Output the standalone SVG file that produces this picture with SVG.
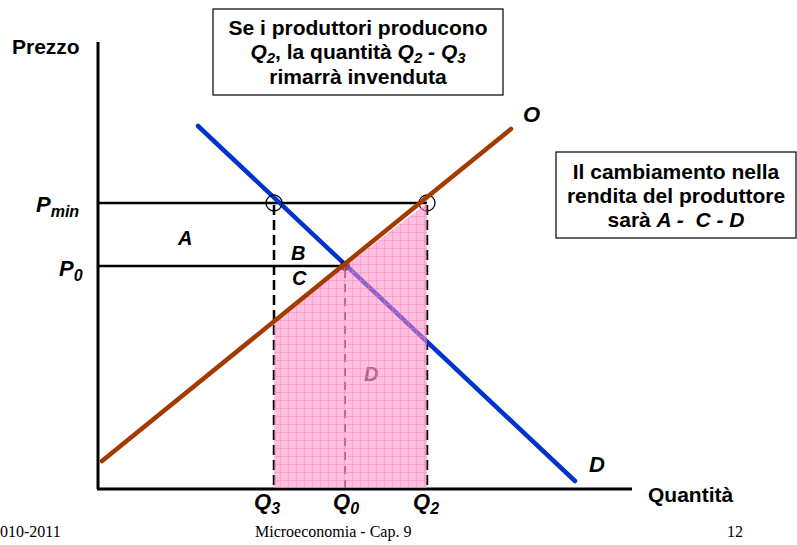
<svg xmlns="http://www.w3.org/2000/svg" width="797" height="545" viewBox="0 0 797 545">
<defs>
<style>
.lbl{font-family:"Liberation Sans",Arial,sans-serif;font-weight:bold;font-size:21px;fill:#000}
.it{font-family:"Liberation Sans",Arial,sans-serif;font-weight:bold;font-style:italic;fill:#000}
.ft{font-family:"Liberation Serif","Times New Roman",serif;font-size:16px;fill:#000}
.ax{stroke:#000;stroke-width:3;fill:none}
.hl{stroke:#000;stroke-width:2.5;fill:none}
.dash{stroke:#000;stroke-width:2.5;stroke-dasharray:10,5;fill:none}
.box{fill:#fff;stroke:#000;stroke-width:1.2}
.circ{fill:none;stroke:#000;stroke-width:1.3}
</style>
<pattern id="grid" width="8" height="8" patternUnits="userSpaceOnUse">
<rect width="8" height="8" fill="#ff8cc6" fill-opacity="0.55"/>
<path d="M0 0.5H8M0.5 0V8" stroke="#ff70b8" stroke-width="1" stroke-opacity="0.4"/>
</pattern>
</defs>
<rect width="797" height="545" fill="#fff"/>
<g id="axes">
<line class="ax" x1="98" y1="42" x2="98" y2="489"/>
<line class="ax" x1="97" y1="489" x2="632" y2="489"/>
<text class="lbl" x="12" y="54">Prezzo</text>
<text class="lbl" x="648" y="502">Quantità</text>
</g>
<g id="connectors">
<line class="hl" x1="98" y1="203" x2="427" y2="203"/>
<line class="hl" x1="98" y1="266" x2="345" y2="266"/>
<line class="dash" x1="274" y1="205" x2="274" y2="488"/>
<line class="dash" x1="427" y1="205" x2="427" y2="488"/>
<line stroke="#000" stroke-width="1.5" stroke-dasharray="8,6" x1="345" y1="270" x2="345" y2="488"/>
<line id="demand" x1="198" y1="126" x2="575" y2="481" stroke="#0033cc" stroke-width="4.5" stroke-linecap="round"/>
<circle cx="345" cy="266" r="5" fill="#000"/>
<circle class="circ" cx="274" cy="203" r="8"/>
<circle class="circ" cx="427" cy="203" r="8"/>
</g>
<g id="areaD">
<text class="it" x="364" y="381" font-size="20" style="fill:#3a3a3a">D</text>
<polygon points="274,488 274,321 427,203 427,488" fill="url(#grid)"/>
</g>
<line id="supply" x1="102" y1="461" x2="511" y2="129" stroke="#a33a00" stroke-width="4.5" stroke-linecap="round"/>
<g id="labels">
<text class="it" x="36" y="212" font-size="22">P<tspan font-size="16" dy="5">min</tspan></text>
<text class="it" x="59" y="276" font-size="22">P<tspan font-size="16" dy="5">0</tspan></text>
<text class="it" x="178" y="245" font-size="20">A</text>
<text class="it" x="291" y="260" font-size="20">B</text>
<text class="it" x="292" y="285" font-size="20">C</text>
<text class="it" x="523" y="122" font-size="22">O</text>
<text class="it" x="589" y="472" font-size="22">D</text>
<text class="it" x="254" y="509" font-size="22">Q<tspan font-size="16" dy="5">3</tspan></text>
<text class="it" x="333" y="509" font-size="22">Q<tspan font-size="16" dy="5">0</tspan></text>
<text class="it" x="413" y="509" font-size="22">Q<tspan font-size="16" dy="5">2</tspan></text>
</g>
<g id="box1">
<rect class="box" x="213" y="9" width="290" height="86"/>
<text class="lbl" x="358" y="35" text-anchor="middle">Se i produttori producono</text>
<text class="lbl" x="358" y="59" text-anchor="middle"><tspan font-style="italic">Q<tspan font-size="15" dy="4">2</tspan></tspan><tspan dy="-4">, la quantità </tspan><tspan font-style="italic">Q<tspan font-size="15" dy="4">2</tspan><tspan dy="-4"> - Q</tspan><tspan font-size="15" dy="4">3</tspan></tspan></text>
<text class="lbl" x="358" y="84" text-anchor="middle">rimarrà invenduta</text>
</g>
<g id="box2">
<rect class="box" x="556" y="152" width="240" height="86"/>
<text class="lbl" x="676" y="179" text-anchor="middle">Il cambiamento nella</text>
<text class="lbl" x="676" y="203" text-anchor="middle">rendita del produttore</text>
<text class="lbl" x="676" y="227" text-anchor="middle">sarà <tspan font-style="italic">A - &#160;C - D</tspan></text>
</g>
<g id="footer">
<text class="ft" x="0" y="537">010-2011</text>
<text class="ft" x="255" y="537">Microeconomia - Cap. 9</text>
<text class="ft" x="727" y="537">12</text>
</g>
</svg>
